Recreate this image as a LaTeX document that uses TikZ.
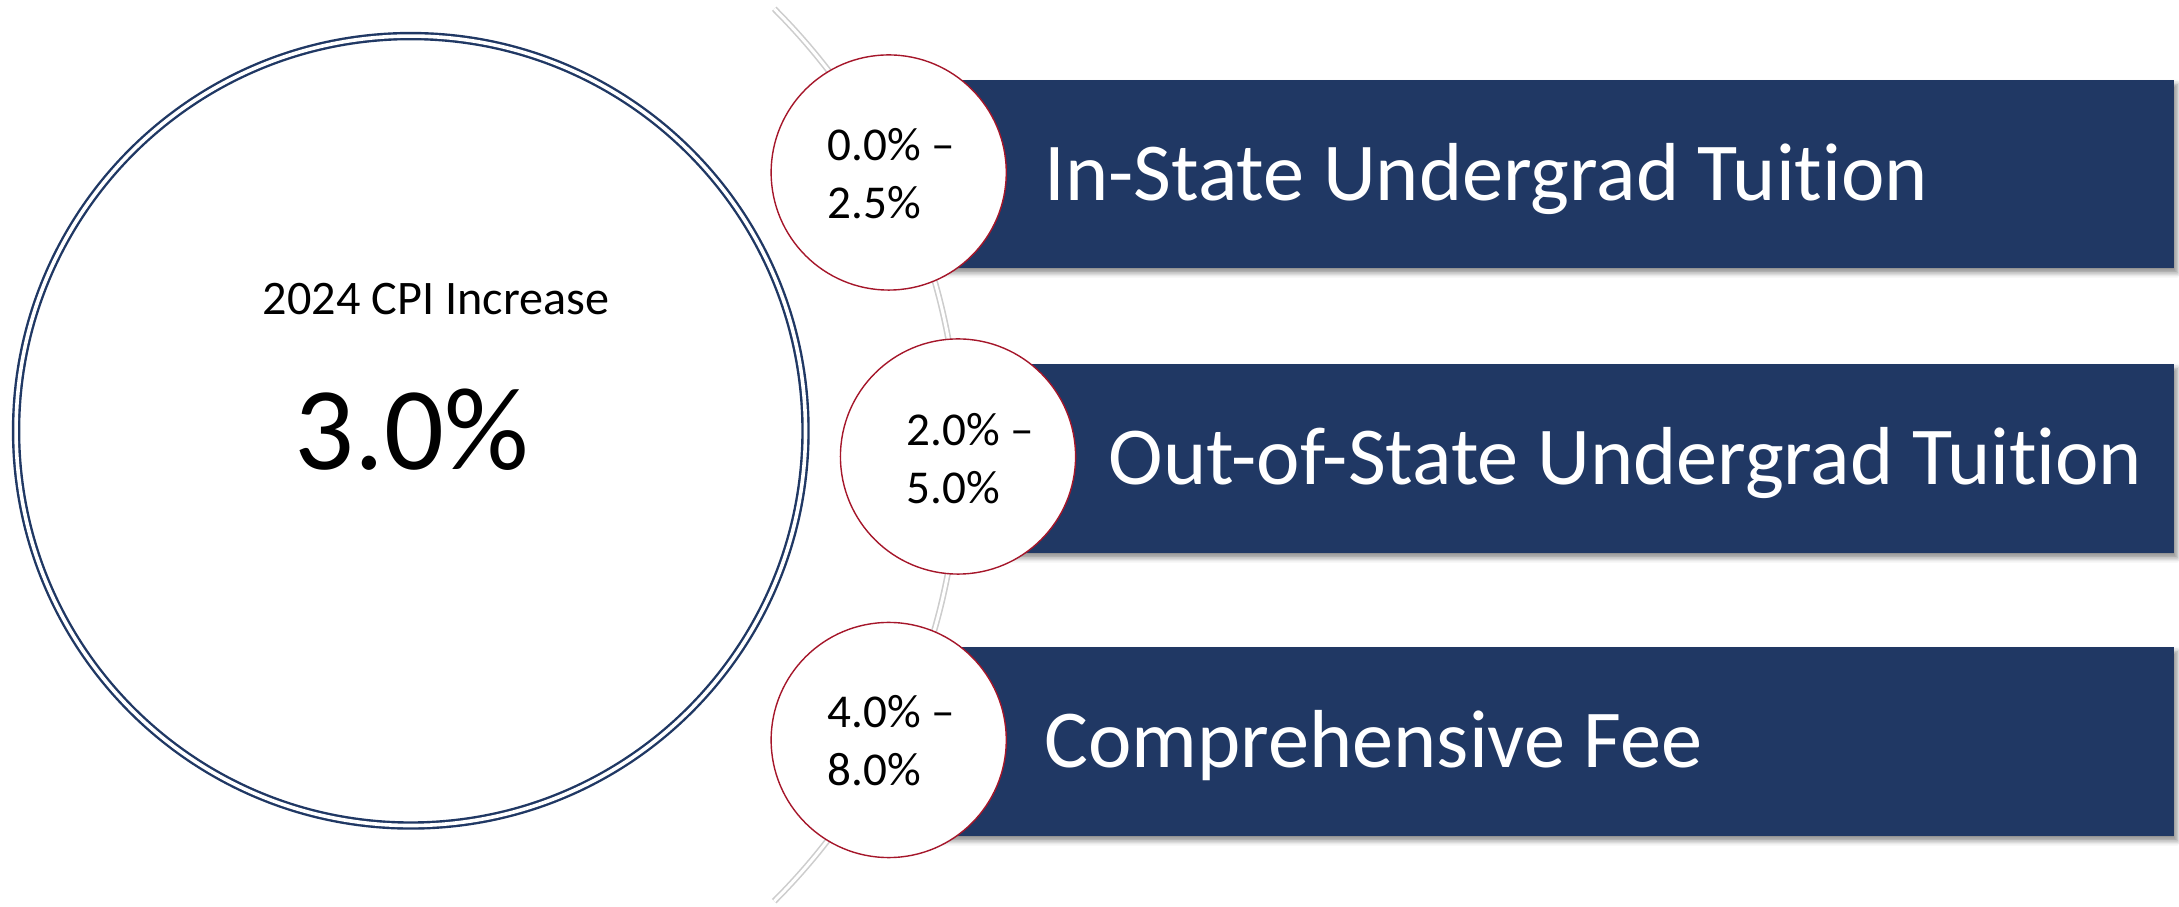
\documentclass[tikz,border=0pt]{standalone}
\usepackage{fontspec}
\setmainfont{Carlito}[Ligatures={NoCommon}]
\usetikzlibrary{shadows.blur}
\definecolor{navy}{RGB}{32,56,100}
\definecolor{ringred}{RGB}{165,22,42}
\definecolor{arcgray}{RGB}{205,205,205}
\begin{document}
\begin{tikzpicture}[x=0.01cm,y=0.01cm,
  bigring/.style={circle, draw=navy, double=white, line width=0.024cm, double distance=0.036cm, minimum size=7.89cm, inner sep=0pt},
  smallring/.style={circle, draw=ringred, fill=white, line width=0.014cm, minimum size=2.35cm, inner sep=0pt},
  barbox/.style={rectangle, fill=navy, draw=none, inner sep=0pt, anchor=north east,
     blur shadow={shadow xshift=0.03cm, shadow yshift=-0.05cm, shadow blur radius=0.05cm, shadow opacity=45}},
  arcline/.style={draw=arcgray, double=white, line width=0.016cm, double distance=0.03cm},
  smalltext/.style={font=\fontsize{13.4pt}{16.5pt}\selectfont, align=left, inner sep=0pt, anchor=north west, text=black},
  bartext/.style={font=\fontsize{23.4pt}{28pt}\selectfont, text=white, inner sep=0pt, anchor=base west}
]
\useasboundingbox (0,0) rectangle (2179,906);
% gray arc
\coordinate (arcC) at (328,451);
\draw[arcline] (arcC) ++(-45:631) arc[start angle=-45, end angle=45, radius=631];
% big circle
\node[bigring] (big) at (410.8,475.2) {};
\node[font=\fontsize{13.7pt}{16pt}\selectfont, anchor=base, inner sep=0pt] (title) at (436,591) {2024 CPI Increase};
\node[font=\fontsize{33.6pt}{40pt}\selectfont, anchor=base, inner sep=0pt] (value) at (411.5,436) {3.0\%};
% bars
\node[barbox, minimum width=12.87cm, minimum height=1.88cm] (bar1) at (2175,827) {};
\node[barbox, minimum width=12.17cm, minimum height=1.89cm] (bar2) at (2175,543) {};
\node[barbox, minimum width=12.87cm, minimum height=1.89cm] (bar3) at (2175,260) {};
% small circles
\node[smallring] (c1) at (888.7,733.5) {};
\node[smallring] (c2) at (958,449.5) {};
\node[smallring] (c3) at (888.7,166) {};
% texts
\node[smalltext] (t1) at (827,778) {0.0\%~–\\2.5\%};
\node[smalltext] (t2) at (906,493) {2.0\%~–\\5.0\%};
\node[smalltext] (t3) at (827,211) {4.0\%~–\\8.0\%};
\node[bartext] (l1) at (1044,705) {In-State Undergrad Tuition};
\node[bartext] (l2) at (1108,421) {Out-of-State Undergrad Tuition};
\node[bartext] (l3) at (1044,138) {Comprehensive Fee};
\end{tikzpicture}
\end{document}
